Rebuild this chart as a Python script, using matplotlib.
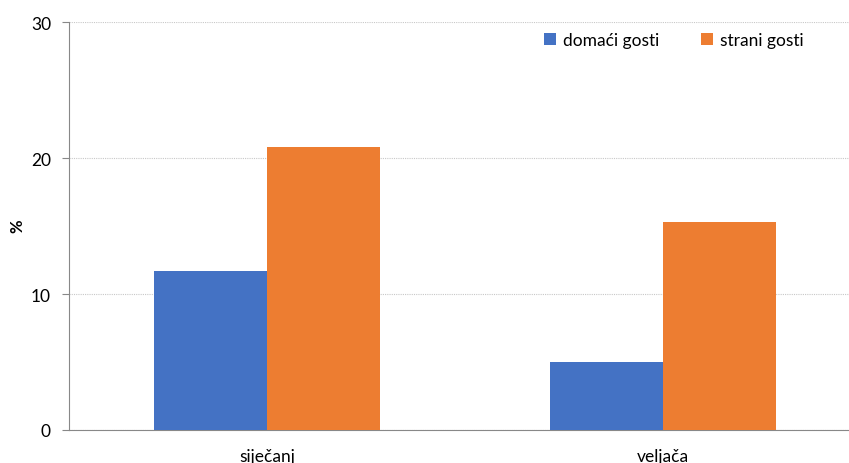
import matplotlib.pyplot as plt
import numpy as np

months = ["siječanj", "veljača"]
domaci = [11.7, 5.0]
strani = [20.8, 15.3]
series_names = ["domaći gosti", "strani gosti"]
yticks = [0, 10, 20, 30]

plt.rcParams['font.family'] = ['Lato', 'DejaVu Sans']

fig = plt.figure(figsize=(8.49, 4.64), dpi=100)
# axes in pixel units: left 69, right 849, bottom y=431, top y=23
ax = fig.add_axes([69/849, (464-431)/464, 780/849, 408/464])

x = np.arange(len(months))
w = 0.285
ax.bar(x - w/2, domaci, w, color="#4472c4", label=series_names[0], zorder=3)
ax.bar(x + w/2, strani, w, color="#ed7d31", label=series_names[1], zorder=3)

ax.set_xlim(-0.5, -0.5 + 780/396)
ax.set_ylim(0, 30)
ax.set_yticks(yticks)
ax.yaxis.grid(True, color="#c8c8c8", linestyle=(0, (1, 1)), linewidth=0.8, zorder=0)

ax.set_xticks(x)
ax.set_xticklabels(months, fontsize=12.5)
ax.tick_params(axis='x', length=0, pad=13)
ax.tick_params(axis='y', length=5, color="#888888", labelsize=12.5, pad=8)

for s in ["top", "right"]:
    ax.spines[s].set_visible(False)
ax.spines["left"].set_color("#888888")
ax.spines["bottom"].set_color("#888888")

fig.text(17/849, 1 - 226/464, "%", rotation=90, fontsize=12, fontweight="bold",
         ha="center", va="center")

ax.legend(loc="upper right", bbox_to_anchor=(0.955, 1.0), ncol=2, frameon=False,
          fontsize=12.5, handlelength=0.7, handleheight=0.7, columnspacing=2.4,
          handletextpad=0.4, borderaxespad=0.2)

fig.savefig("out.png", dpi=100)
